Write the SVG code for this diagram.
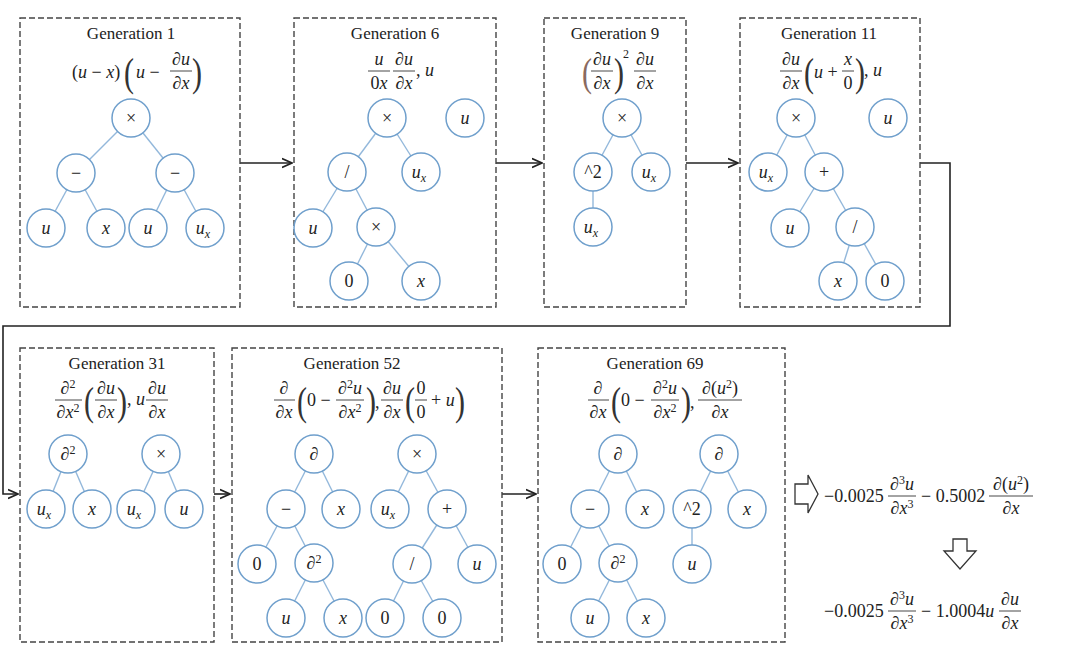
<svg xmlns="http://www.w3.org/2000/svg" width="1080" height="665" viewBox="0 0 1080 665" font-family="'Liberation Serif', 'DejaVu Serif', serif">
<defs>
<style>
text{font-family:"Liberation Serif","DejaVu Serif",serif}
.box{fill:none;stroke:#444;stroke-width:1.4;stroke-dasharray:6,3}
.nd{fill:#fff;stroke:#6f9fcc;stroke-width:1.5}
.ed{stroke:#93b8db;stroke-width:1.4}
.t{font-size:17px;fill:#222;text-anchor:middle}
.f{font-size:18px;fill:#222}
.i{font-style:italic}
.c{text-anchor:middle}
.bp{font-size:30px;fill:#333;font-weight:normal}
.fl{stroke:#333;stroke-width:0.9}
.lb{font-size:18px;fill:#222;text-anchor:middle}
.con{fill:none;stroke:#222;stroke-width:1.6}
</style>
<marker id="ah" viewBox="0 0 10 10" refX="9" refY="5" markerWidth="7" markerHeight="7" orient="auto"><path d="M0,1 L9,5 L0,9" fill="none" stroke="#222" stroke-width="1.6"/></marker>
</defs>
<rect width="1080" height="665" fill="#fff"/>

<g id="connectors">
<line class="con" x1="240" y1="163" x2="292" y2="163" marker-end="url(#ah)"/>
<line class="con" x1="496" y1="163" x2="542" y2="163" marker-end="url(#ah)"/>
<line class="con" x1="686" y1="163" x2="738" y2="163" marker-end="url(#ah)"/>
<polyline class="con" points="920,163 950,163 950,326 3,326 3,494 18,494" marker-end="url(#ah)"/>
<line class="con" x1="214" y1="494" x2="230" y2="494" marker-end="url(#ah)"/>
<line class="con" x1="502" y1="494" x2="536" y2="494" marker-end="url(#ah)"/>
<path d="M795,484 L808,484 L808,475 L818,494 L808,513 L808,504 L795,504 Z" fill="#fff" stroke="#333" stroke-width="1.3"/>
<path d="M953,539 L967,539 L967,551 L976,551 L960,569 L944,551 L953,551 Z" fill="#fff" stroke="#333" stroke-width="1.3"/>
</g>

<g id="gen1">
<rect class="box" x="20" y="18" width="220" height="289"/>
<text class="t" x="131" y="39">Generation 1</text>
<text class="f" x="72" y="78">(<tspan class="i">u</tspan> − <tspan class="i">x</tspan>)</text>
<text class="bp" x="124" y="86" transform="translate(124,86) scale(1,1.3) translate(-124,-86)">(</text><text class="bp" x="192" y="86" transform="translate(192,86) scale(1,1.3) translate(-192,-86)">)</text>
<text class="f" x="136" y="78"><tspan class="i">u</tspan> −</text>
<text class="f i c" x="181" y="65">∂u</text><line class="fl" x1="170" y1="71" x2="192" y2="71"/><text class="f i c" x="181" y="89">∂x</text>
<g class="ed"><line x1="131" y1="118" x2="76" y2="173"/><line x1="131" y1="118" x2="175" y2="173"/><line x1="76" y1="173" x2="46" y2="228"/><line x1="76" y1="173" x2="106" y2="228"/><line x1="175" y1="173" x2="148" y2="228"/><line x1="175" y1="173" x2="205" y2="228"/></g>
<circle class="nd" cx="131" cy="118" r="19"/><text class="lb" x="131" y="124">×</text>
<circle class="nd" cx="76" cy="173" r="19"/><text class="lb" x="76" y="179">−</text>
<circle class="nd" cx="175" cy="173" r="19"/><text class="lb" x="175" y="179">−</text>
<circle class="nd" cx="46" cy="228" r="19"/><text class="lb i" x="46" y="234">u</text>
<circle class="nd" cx="106" cy="228" r="19"/><text class="lb i" x="106" y="234">x</text>
<circle class="nd" cx="148" cy="228" r="19"/><text class="lb i" x="148" y="234">u</text>
<circle class="nd" cx="205" cy="228" r="19"/><text class="lb i" x="203" y="234">u<tspan font-size="12" dy="4">x</tspan></text>
</g>

<g id="gen6">
<rect class="box" x="294" y="18" width="202" height="289"/>
<text class="t" x="395" y="39">Generation 6</text>
<text class="f i c" x="379" y="65">u</text><line class="fl" x1="368" y1="71" x2="390" y2="71"/><text class="f c" x="379" y="89">0<tspan class="i">x</tspan></text>
<text class="f i c" x="404" y="65">∂u</text><line class="fl" x1="393" y1="71" x2="415" y2="71"/><text class="f i c" x="404" y="89">∂x</text>
<text class="f" x="416" y="76">, <tspan class="i">u</tspan></text>
<g class="ed"><line x1="387" y1="118" x2="347" y2="172"/><line x1="387" y1="118" x2="421" y2="172"/><line x1="347" y1="172" x2="313" y2="228"/><line x1="347" y1="172" x2="376" y2="227"/><line x1="376" y1="227" x2="349" y2="281"/><line x1="376" y1="227" x2="421" y2="281"/></g>
<circle class="nd" cx="387" cy="118" r="19"/><text class="lb" x="387" y="124">×</text>
<circle class="nd" cx="465" cy="118" r="19"/><text class="lb i" x="465" y="124">u</text>
<circle class="nd" cx="347" cy="172" r="19"/><text class="lb" x="347" y="178">/</text>
<circle class="nd" cx="421" cy="172" r="19"/><text class="lb i" x="419" y="178">u<tspan font-size="12" dy="4">x</tspan></text>
<circle class="nd" cx="313" cy="228" r="19"/><text class="lb i" x="313" y="234">u</text>
<circle class="nd" cx="376" cy="227" r="19"/><text class="lb" x="376" y="233">×</text>
<circle class="nd" cx="349" cy="281" r="19"/><text class="lb" x="349" y="287">0</text>
<circle class="nd" cx="421" cy="281" r="19"/><text class="lb i" x="421" y="287">x</text>
</g>

<g id="gen9">
<rect class="box" x="544" y="18" width="142" height="289"/>
<text class="t" x="615" y="39">Generation 9</text>
<text class="bp" x="582" y="86" style="fill:#8a6a60" transform="translate(582,86) scale(1,1.3) translate(-582,-86)">(</text><text class="bp" x="614" y="86" transform="translate(614,86) scale(1,1.3) translate(-614,-86)">)</text>
<text class="f i c" x="602" y="65">∂u</text><line class="fl" x1="591" y1="71" x2="613" y2="71"/><text class="f i c" x="602" y="89">∂x</text>
<text x="623" y="58" style="font-size:12px;fill:#222">2</text>
<text class="f i c" x="645" y="65">∂u</text><line class="fl" x1="634" y1="71" x2="656" y2="71"/><text class="f i c" x="645" y="89">∂x</text>
<g class="ed"><line x1="622" y1="118" x2="593" y2="172"/><line x1="622" y1="118" x2="651" y2="172"/><line x1="593" y1="172" x2="593" y2="227"/></g>
<circle class="nd" cx="622" cy="118" r="19"/><text class="lb" x="622" y="124">×</text>
<circle class="nd" cx="593" cy="172" r="19"/><text class="lb" x="593" y="178">^2</text>
<circle class="nd" cx="651" cy="172" r="19"/><text class="lb i" x="649" y="178">u<tspan font-size="12" dy="4">x</tspan></text>
<circle class="nd" cx="593" cy="227" r="19"/><text class="lb i" x="591" y="233">u<tspan font-size="12" dy="4">x</tspan></text>
</g>

<g id="gen11">
<rect class="box" x="740" y="18" width="180" height="289"/>
<text class="t" x="829" y="39">Generation 11</text>
<text class="f i c" x="791" y="65">∂u</text><line class="fl" x1="780" y1="71" x2="802" y2="71"/><text class="f i c" x="791" y="89">∂x</text>
<text class="bp" x="804" y="86" transform="translate(804,86) scale(1,1.3) translate(-804,-86)">(</text><text class="bp" x="855" y="86" transform="translate(855,86) scale(1,1.3) translate(-855,-86)">)</text>
<text class="f" x="814" y="78"><tspan class="i">u</tspan> +</text>
<text class="f i c" x="848" y="65">x</text><line class="fl" x1="842" y1="71" x2="854" y2="71"/><text class="f c" x="848" y="89">0</text>
<text class="f" x="864" y="76">, <tspan class="i">u</tspan></text>
<g class="ed"><line x1="796" y1="118" x2="768" y2="172"/><line x1="796" y1="118" x2="824" y2="172"/><line x1="824" y1="172" x2="790" y2="228"/><line x1="824" y1="172" x2="855" y2="227"/><line x1="855" y1="227" x2="838" y2="281"/><line x1="855" y1="227" x2="885" y2="281"/></g>
<circle class="nd" cx="796" cy="118" r="19"/><text class="lb" x="796" y="124">×</text>
<circle class="nd" cx="888" cy="118" r="19"/><text class="lb i" x="888" y="124">u</text>
<circle class="nd" cx="768" cy="172" r="19"/><text class="lb i" x="766" y="178">u<tspan font-size="12" dy="4">x</tspan></text>
<circle class="nd" cx="824" cy="172" r="19"/><text class="lb" x="824" y="178">+</text>
<circle class="nd" cx="790" cy="228" r="19"/><text class="lb i" x="790" y="234">u</text>
<circle class="nd" cx="855" cy="227" r="19"/><text class="lb" x="855" y="233">/</text>
<circle class="nd" cx="838" cy="281" r="19"/><text class="lb i" x="838" y="287">x</text>
<circle class="nd" cx="885" cy="281" r="19"/><text class="lb" x="885" y="287">0</text>
</g>

<g id="gen31">
<rect class="box" x="20" y="348" width="194" height="294"/>
<text class="t" x="117" y="369">Generation 31</text>
<text class="f i c" x="68" y="394">∂<tspan font-size="12" dy="-6" font-style="normal">2</tspan></text><line class="fl" x1="55" y1="400" x2="82" y2="400"/><text class="f i c" x="68" y="418">∂x<tspan font-size="12" dy="-6" font-style="normal">2</tspan></text>
<text class="bp" x="84" y="415" transform="translate(84,415) scale(1,1.3) translate(-84,-415)">(</text><text class="bp" x="117" y="415" transform="translate(117,415) scale(1,1.3) translate(-117,-415)">)</text>
<text class="f i c" x="106" y="394">∂u</text><line class="fl" x1="95" y1="400" x2="117" y2="400"/><text class="f i c" x="106" y="418">∂x</text>
<text class="f" x="127" y="405">, <tspan class="i">u</tspan></text>
<text class="f i c" x="157" y="394">∂u</text><line class="fl" x1="146" y1="400" x2="168" y2="400"/><text class="f i c" x="157" y="418">∂x</text>
<g class="ed"><line x1="68" y1="454" x2="46" y2="509"/><line x1="68" y1="454" x2="92" y2="509"/><line x1="161" y1="454" x2="136" y2="509"/><line x1="161" y1="454" x2="184" y2="509"/></g>
<circle class="nd" cx="68" cy="454" r="19"/><text class="lb i" x="68" y="460">∂<tspan font-size="12" dy="-6" font-style="normal">2</tspan></text>
<circle class="nd" cx="161" cy="454" r="19"/><text class="lb" x="161" y="460">×</text>
<circle class="nd" cx="46" cy="509" r="19"/><text class="lb i" x="44" y="515">u<tspan font-size="12" dy="4">x</tspan></text>
<circle class="nd" cx="92" cy="509" r="19"/><text class="lb i" x="92" y="515">x</text>
<circle class="nd" cx="136" cy="509" r="19"/><text class="lb i" x="134" y="515">u<tspan font-size="12" dy="4">x</tspan></text>
<circle class="nd" cx="184" cy="509" r="19"/><text class="lb i" x="184" y="515">u</text>
</g>

<g id="gen52">
<rect class="box" x="232" y="348" width="270" height="294"/>
<text class="t" x="352" y="369">Generation 52</text>
<text class="f i c" x="284" y="394">∂</text><line class="fl" x1="274" y1="400" x2="295" y2="400"/><text class="f i c" x="284" y="418">∂x</text>
<text class="bp" x="297" y="415" transform="translate(297,415) scale(1,1.3) translate(-297,-415)">(</text><text class="bp" x="366" y="415" transform="translate(366,415) scale(1,1.3) translate(-366,-415)">)</text>
<text class="f" x="307" y="406">0 −</text>
<text class="f i c" x="350" y="394">∂<tspan font-size="12" dy="-6" font-style="normal">2</tspan><tspan dy="6">u</tspan></text><line class="fl" x1="336" y1="400" x2="364" y2="400"/><text class="f i c" x="350" y="418">∂x<tspan font-size="12" dy="-6" font-style="normal">2</tspan></text>
<text class="f" x="375" y="408">,</text>
<text class="f i c" x="392" y="394">∂u</text><line class="fl" x1="381" y1="400" x2="403" y2="400"/><text class="f i c" x="392" y="418">∂x</text>
<text class="bp" x="405" y="415" transform="translate(405,415) scale(1,1.3) translate(-405,-415)">(</text><text class="bp" x="455" y="415" transform="translate(455,415) scale(1,1.3) translate(-455,-415)">)</text>
<text class="f c" x="421" y="394">0</text><line class="fl" x1="415" y1="400" x2="427" y2="400"/><text class="f c" x="421" y="418">0</text>
<text class="f" x="431" y="406">+ <tspan class="i">u</tspan></text>
<g class="ed"><line x1="314" y1="454" x2="286" y2="509"/><line x1="314" y1="454" x2="341" y2="509"/><line x1="286" y1="509" x2="257" y2="564"/><line x1="286" y1="509" x2="314" y2="563"/><line x1="314" y1="563" x2="286" y2="618"/><line x1="314" y1="563" x2="343" y2="618"/><line x1="417" y1="454" x2="390" y2="509"/><line x1="417" y1="454" x2="447" y2="509"/><line x1="447" y1="509" x2="412" y2="564"/><line x1="447" y1="509" x2="477" y2="564"/><line x1="412" y1="564" x2="385" y2="618"/><line x1="412" y1="564" x2="442" y2="618"/></g>
<circle class="nd" cx="314" cy="454" r="19"/><text class="lb i" x="314" y="460">∂</text>
<circle class="nd" cx="417" cy="454" r="19"/><text class="lb" x="417" y="460">×</text>
<circle class="nd" cx="286" cy="509" r="19"/><text class="lb" x="286" y="515">−</text>
<circle class="nd" cx="341" cy="509" r="19"/><text class="lb i" x="341" y="515">x</text>
<circle class="nd" cx="390" cy="509" r="19"/><text class="lb i" x="388" y="515">u<tspan font-size="12" dy="4">x</tspan></text>
<circle class="nd" cx="447" cy="509" r="19"/><text class="lb" x="447" y="515">+</text>
<circle class="nd" cx="257" cy="564" r="19"/><text class="lb" x="257" y="570">0</text>
<circle class="nd" cx="314" cy="563" r="19"/><text class="lb i" x="314" y="569">∂<tspan font-size="12" dy="-6" font-style="normal">2</tspan></text>
<circle class="nd" cx="412" cy="564" r="19"/><text class="lb" x="412" y="570">/</text>
<circle class="nd" cx="477" cy="564" r="19"/><text class="lb i" x="477" y="570">u</text>
<circle class="nd" cx="286" cy="618" r="19"/><text class="lb i" x="286" y="624">u</text>
<circle class="nd" cx="343" cy="618" r="19"/><text class="lb i" x="343" y="624">x</text>
<circle class="nd" cx="385" cy="618" r="19"/><text class="lb" x="385" y="624">0</text>
<circle class="nd" cx="442" cy="618" r="19"/><text class="lb" x="442" y="624">0</text>
</g>

<g id="gen69">
<rect class="box" x="538" y="348" width="247" height="294"/>
<text class="t" x="655" y="369">Generation 69</text>
<text class="f i c" x="598" y="394">∂</text><line class="fl" x1="588" y1="400" x2="609" y2="400"/><text class="f i c" x="598" y="418">∂x</text>
<text class="bp" x="611" y="415" transform="translate(611,415) scale(1,1.3) translate(-611,-415)">(</text><text class="bp" x="681" y="415" transform="translate(681,415) scale(1,1.3) translate(-681,-415)">)</text>
<text class="f" x="621" y="406">0 −</text>
<text class="f i c" x="665" y="394">∂<tspan font-size="12" dy="-6" font-style="normal">2</tspan><tspan dy="6">u</tspan></text><line class="fl" x1="651" y1="400" x2="679" y2="400"/><text class="f i c" x="665" y="418">∂x<tspan font-size="12" dy="-6" font-style="normal">2</tspan></text>
<text class="f" x="690" y="408">,</text>
<text class="f c" x="720" y="394"><tspan class="i">∂</tspan>(<tspan class="i">u</tspan><tspan font-size="12" dy="-6">2</tspan><tspan dy="6">)</tspan></text><line class="fl" x1="698" y1="400" x2="742" y2="400"/><text class="f i c" x="720" y="418">∂x</text>
<g class="ed"><line x1="618" y1="454" x2="590" y2="509"/><line x1="618" y1="454" x2="645" y2="509"/><line x1="590" y1="509" x2="562" y2="564"/><line x1="590" y1="509" x2="618" y2="563"/><line x1="618" y1="563" x2="590" y2="618"/><line x1="618" y1="563" x2="646" y2="618"/><line x1="719" y1="454" x2="692" y2="509"/><line x1="719" y1="454" x2="747" y2="509"/><line x1="692" y1="509" x2="692" y2="564"/></g>
<circle class="nd" cx="618" cy="454" r="19"/><text class="lb i" x="618" y="460">∂</text>
<circle class="nd" cx="719" cy="454" r="19"/><text class="lb i" x="719" y="460">∂</text>
<circle class="nd" cx="590" cy="509" r="19"/><text class="lb" x="590" y="515">−</text>
<circle class="nd" cx="645" cy="509" r="19"/><text class="lb i" x="645" y="515">x</text>
<circle class="nd" cx="692" cy="509" r="19"/><text class="lb" x="692" y="515">^2</text>
<circle class="nd" cx="747" cy="509" r="19"/><text class="lb i" x="747" y="515">x</text>
<circle class="nd" cx="562" cy="564" r="19"/><text class="lb" x="562" y="570">0</text>
<circle class="nd" cx="618" cy="563" r="19"/><text class="lb i" x="618" y="569">∂<tspan font-size="12" dy="-6" font-style="normal">2</tspan></text>
<circle class="nd" cx="692" cy="564" r="19"/><text class="lb i" x="692" y="570">u</text>
<circle class="nd" cx="590" cy="618" r="19"/><text class="lb i" x="590" y="624">u</text>
<circle class="nd" cx="646" cy="618" r="19"/><text class="lb i" x="646" y="624">x</text>
</g>

<g id="result">
<text class="f" x="824" y="502">−0.0025</text>
<text class="f i c" x="902" y="490">∂<tspan font-size="12" dy="-6" font-style="normal">3</tspan><tspan dy="6">u</tspan></text><line class="fl" x1="888" y1="496" x2="916" y2="496"/><text class="f i c" x="902" y="514">∂x<tspan font-size="12" dy="-6" font-style="normal">3</tspan></text>
<text class="f" x="921" y="502">− 0.5002</text>
<text class="f c" x="1011" y="490"><tspan class="i">∂</tspan>(<tspan class="i">u</tspan><tspan font-size="12" dy="-6">2</tspan><tspan dy="6">)</tspan></text><line class="fl" x1="989" y1="496" x2="1033" y2="496"/><text class="f i c" x="1011" y="514">∂x</text>
<text class="f" x="824" y="617">−0.0025</text>
<text class="f i c" x="902" y="605">∂<tspan font-size="12" dy="-6" font-style="normal">3</tspan><tspan dy="6">u</tspan></text><line class="fl" x1="888" y1="611" x2="916" y2="611"/><text class="f i c" x="902" y="629">∂x<tspan font-size="12" dy="-6" font-style="normal">3</tspan></text>
<text class="f" x="921" y="617">− 1.0004<tspan class="i">u</tspan></text>
<text class="f i c" x="1010" y="605">∂u</text><line class="fl" x1="999" y1="611" x2="1021" y2="611"/><text class="f i c" x="1010" y="629">∂x</text>
</g>
</svg>
